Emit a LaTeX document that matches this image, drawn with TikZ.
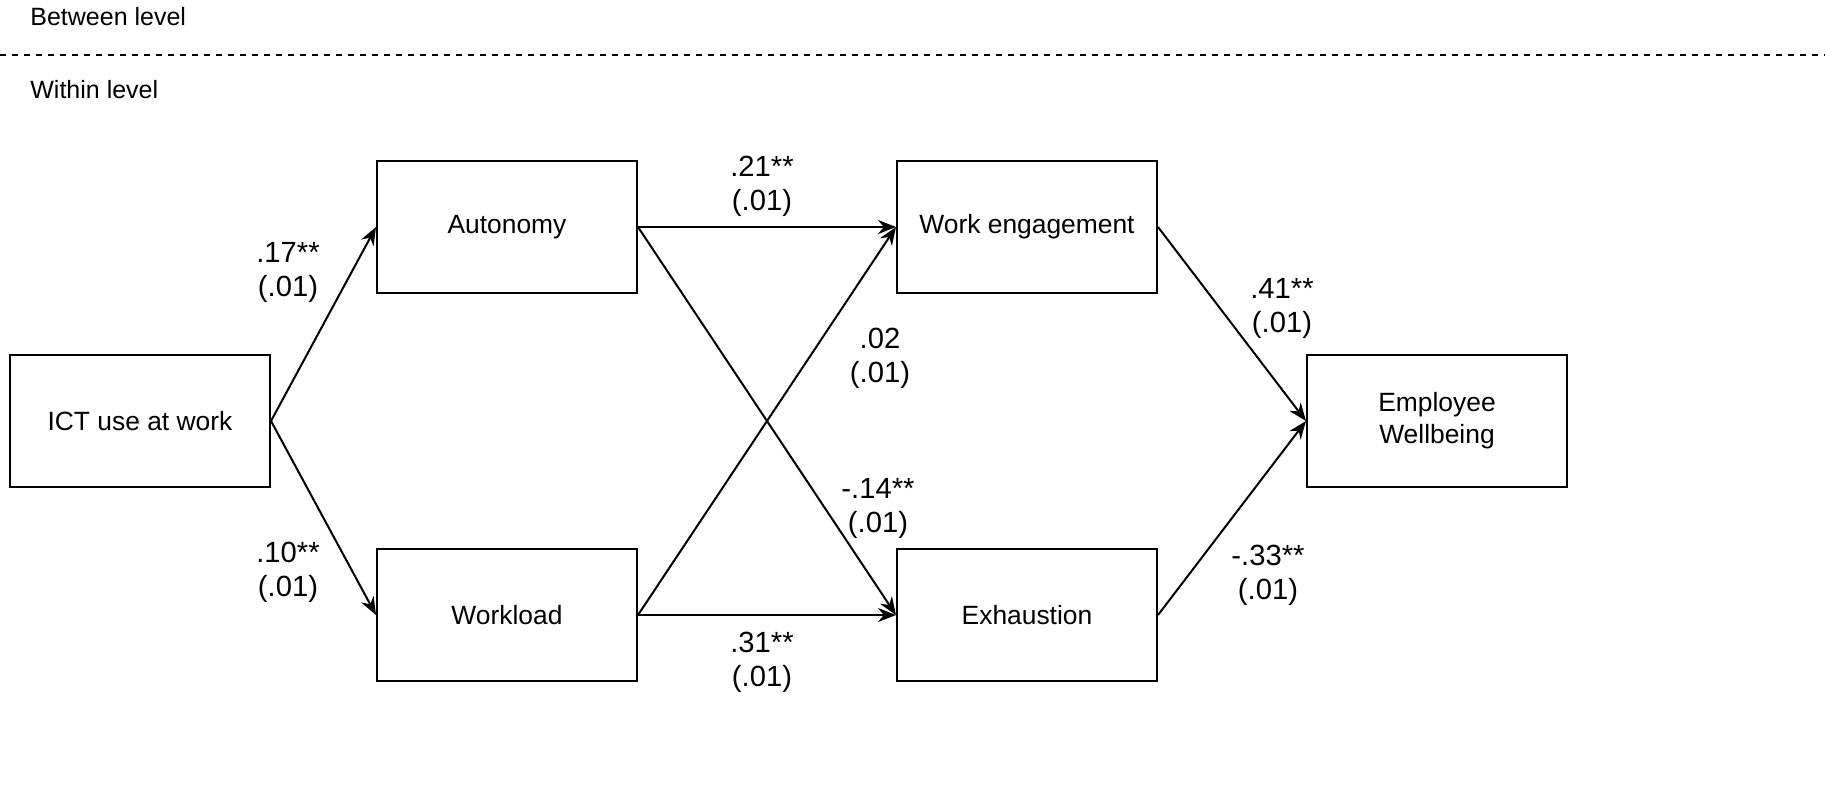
\documentclass[tikz,border=0pt]{standalone}
\usepackage{fontspec}
\setmainfont{Liberation Sans}
\usetikzlibrary{arrows.meta}
\begin{document}
\begin{tikzpicture}[x=0.5pt,y=-0.5pt,
 box/.style={draw,line width=1pt,minimum width=130pt,minimum height=66pt,font=\fontsize{13.2}{16}\selectfont,align=center,inner sep=0pt},
 arr/.style={line width=1pt,-{Stealth[length=9pt,width=7pt]}},
 lab/.style={font=\fontsize{14.6}{17}\selectfont,align=center}]
\useasboundingbox (0,0) rectangle (1825,810);
\draw[dashed,line width=0.8pt] (0,55) -- (1825,55);
\node[anchor=west,font=\fontsize{12.5}{15}\selectfont,inner sep=0pt] (bl) at (30,17) {Between level};
\node[anchor=west,font=\fontsize{12.5}{15}\selectfont,inner sep=0pt] (wl) at (30,90) {Within level};
\node[box] (ict) at (140,421) {ICT use at work};
\node[box] (aut) at (507,227) {Autonomy};
\node[box] (wlo) at (507,615) {Workload};
\node[box] (we) at (1027,227) {Work engagement};
\node[box] (ex) at (1027,615) {Exhaustion};
\node[box] (ew) at (1437,421) {Employee\\Wellbeing};
\draw[arr] (ict.east) -- (aut.west);
\draw[arr] (ict.east) -- (wlo.west);
\draw[arr] (aut.east) -- (we.west);
\draw[arr] (aut.east) -- (ex.west);
\draw[arr] (wlo.east) -- (we.west);
\draw[arr] (wlo.east) -- (ex.west);
\draw[arr] (we.east) -- (ew.west);
\draw[arr] (ex.east) -- (ew.west);
\node[lab] (l1) at (288,272) {.17**\\(.01)};
\node[lab] (l2) at (288,572) {.10**\\(.01)};
\node[lab] (l3) at (762,186) {.21**\\(.01)};
\node[lab] (l4) at (880,358) {.02\\(.01)};
\node[lab] (l5) at (878,508) {-.14**\\(.01)};
\node[lab] (l6) at (762,662) {.31**\\(.01)};
\node[lab] (l7) at (1282,308) {.41**\\(.01)};
\node[lab] (l8) at (1268,575) {-.33**\\(.01)};
\end{tikzpicture}
\end{document}
